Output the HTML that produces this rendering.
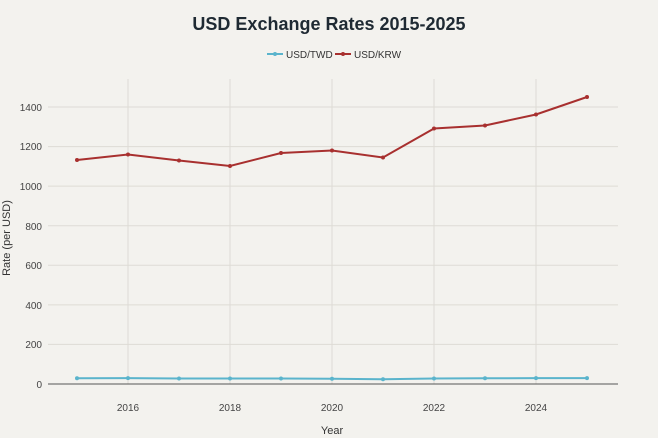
<!DOCTYPE html><html><head><style>body{margin:0;background:#f3f2ee;}svg{display:block;font-family:"Liberation Sans",sans-serif;}</style></head><body>
<svg width="658" height="438" viewBox="0 0 658 438">
<rect width="658" height="438" fill="#f3f2ee"/>
<text x="329" y="30" text-anchor="middle" font-size="18" font-weight="bold" fill="#1f2a33">USD Exchange Rates 2015-2025</text>
<line x1="267" y1="54" x2="283" y2="54" stroke="#5ab4cc" stroke-width="2"/><circle cx="275" cy="54" r="2" fill="#5ab4cc"/>
<text x="286" y="58" font-size="10" fill="#333">USD/TWD</text>
<line x1="335" y1="54" x2="351" y2="54" stroke="#a8302f" stroke-width="2"/><circle cx="343" cy="54" r="2" fill="#a8302f"/>
<text x="354" y="58" font-size="10" fill="#333">USD/KRW</text>
<g stroke="#dedbd5" stroke-width="1">
<line x1="128" y1="79" x2="128" y2="384"/><line x1="230" y1="79" x2="230" y2="384"/><line x1="332" y1="79" x2="332" y2="384"/><line x1="434" y1="79" x2="434" y2="384"/><line x1="536" y1="79" x2="536" y2="384"/>
<line x1="48" y1="344.4" x2="618" y2="344.4"/><line x1="48" y1="304.9" x2="618" y2="304.9"/><line x1="48" y1="265.3" x2="618" y2="265.3"/><line x1="48" y1="225.7" x2="618" y2="225.7"/><line x1="48" y1="186.1" x2="618" y2="186.1"/><line x1="48" y1="146.6" x2="618" y2="146.6"/><line x1="48" y1="107" x2="618" y2="107"/>
</g>
<line x1="48" y1="384" x2="618" y2="384" stroke="#555" stroke-width="1"/>
<g font-size="10" fill="#444" text-anchor="end">
<text x="42" y="388">0</text><text x="42" y="348">200</text><text x="42" y="309">400</text><text x="42" y="269">600</text><text x="42" y="230">800</text><text x="42" y="190">1000</text><text x="42" y="150">1200</text><text x="42" y="111">1400</text>
</g>
<g font-size="10" fill="#444" text-anchor="middle">
<text x="128" y="411">2016</text><text x="230" y="411">2018</text><text x="332" y="411">2020</text><text x="434" y="411">2022</text><text x="536" y="411">2024</text>
</g>
<text x="332" y="434" font-size="11" fill="#333" text-anchor="middle">Year</text>
<text transform="translate(10,238) rotate(-90)" font-size="11" fill="#333" text-anchor="middle">Rate (per USD)</text>
<polyline fill="none" stroke="#5ab4cc" stroke-width="2" points="77,378.3 128,378.1 179,378.5 230,378.5 281,378.5 332,378.7 383,379.3 434,378.5 485,378.3 536,378.1 587,378.1"/>
<g fill="#5ab4cc"><circle cx="77" cy="378.3" r="2"/><circle cx="128" cy="378.1" r="2"/><circle cx="179" cy="378.5" r="2"/><circle cx="230" cy="378.5" r="2"/><circle cx="281" cy="378.5" r="2"/><circle cx="332" cy="378.7" r="2"/><circle cx="383" cy="379.3" r="2"/><circle cx="434" cy="378.5" r="2"/><circle cx="485" cy="378.3" r="2"/><circle cx="536" cy="378.1" r="2"/><circle cx="587" cy="378.1" r="2"/></g>
<polyline fill="none" stroke="#a8302f" stroke-width="2" points="77,160 128,154.5 179,160.5 230,166 281,153 332,150.5 383,157.5 434,128.5 485,125.5 536,114.5 587,97"/>
<g fill="#a8302f"><circle cx="77" cy="160" r="2"/><circle cx="128" cy="154.5" r="2"/><circle cx="179" cy="160.5" r="2"/><circle cx="230" cy="166" r="2"/><circle cx="281" cy="153" r="2"/><circle cx="332" cy="150.5" r="2"/><circle cx="383" cy="157.5" r="2"/><circle cx="434" cy="128.5" r="2"/><circle cx="485" cy="125.5" r="2"/><circle cx="536" cy="114.5" r="2"/><circle cx="587" cy="97" r="2"/></g>
</svg></body></html>
